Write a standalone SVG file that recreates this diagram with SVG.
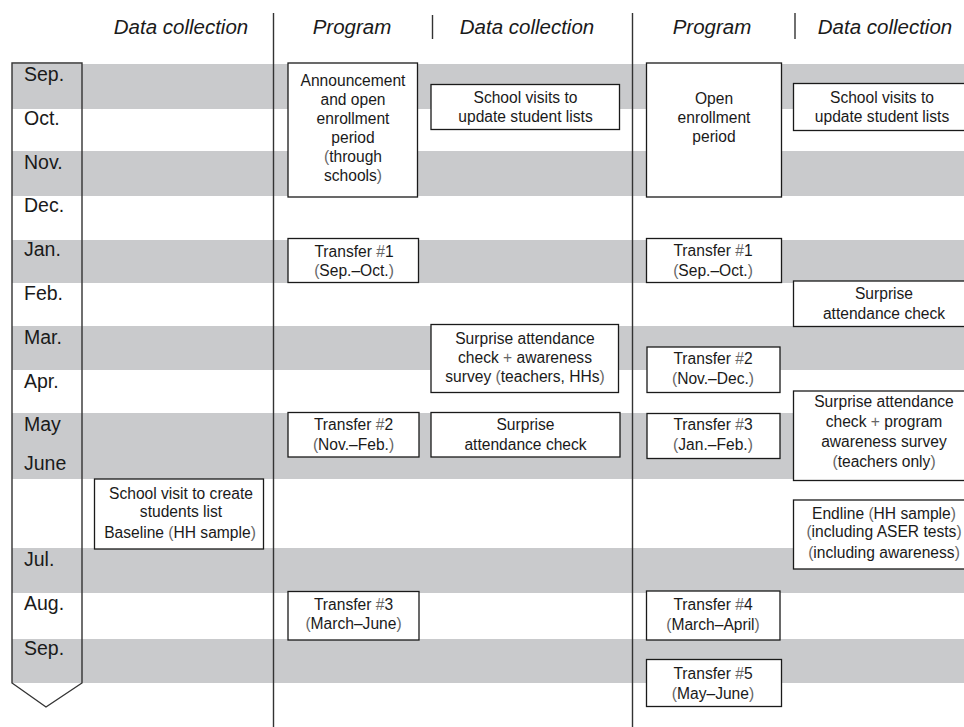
<svg xmlns="http://www.w3.org/2000/svg" width="964" height="727" viewBox="0 0 964 727">
<style>
.band{fill:#c9cacc}
.box{fill:#fff;stroke:#1a1a1a;stroke-width:1.3}
.div{stroke:#333;stroke-width:1.4;fill:none}
.hdr{font-family:"Liberation Sans",Arial,sans-serif;font-style:italic;font-size:20.5px;fill:#1a1a1a;text-anchor:middle}
.mon{font-family:"Liberation Sans",Arial,sans-serif;font-size:19.5px;fill:#1a1a1a}
.t{font-family:"Liberation Sans",Arial,sans-serif;font-size:15.6px;fill:#1a1a1a;text-anchor:middle}
.sym{fill:#666}
</style>
<rect width="964" height="727" fill="#fff"/>
<g id="bands">
<rect class="band" x="12" y="64" width="952" height="45"/>
<rect class="band" x="12" y="151" width="952" height="45"/>
<rect class="band" x="12" y="240" width="952" height="43"/>
<rect class="band" x="12" y="326" width="952" height="44"/>
<rect class="band" x="12" y="413" width="952" height="66"/>
<rect class="band" x="12" y="548" width="952" height="45"/>
<rect class="band" x="12" y="639" width="952" height="44"/>
</g>
<g id="timeline">
<path d="M12,63 H82 V683 L46,707 L12,683 Z" fill="none" stroke="#333" stroke-width="1.4"/>
<text class="mon" x="24" y="81">Sep.</text>
<text class="mon" x="24" y="125">Oct.</text>
<text class="mon" x="24" y="169">Nov.</text>
<text class="mon" x="24" y="212">Dec.</text>
<text class="mon" x="24" y="256">Jan.</text>
<text class="mon" x="24" y="300">Feb.</text>
<text class="mon" x="24" y="344">Mar.</text>
<text class="mon" x="24" y="388">Apr.</text>
<text class="mon" x="24" y="431">May</text>
<text class="mon" x="24" y="470">June</text>
<text class="mon" x="24" y="566">Jul.</text>
<text class="mon" x="24" y="610">Aug.</text>
<text class="mon" x="24" y="655">Sep.</text>
</g>
<g id="headers">
<text class="hdr" x="181" y="34">Data collection</text>
<text class="hdr" x="352" y="34">Program</text>
<text class="hdr" x="527" y="34">Data collection</text>
<text class="hdr" x="712" y="34">Program</text>
<text class="hdr" x="885" y="34">Data collection</text>
</g>
<g id="connectors">
<line class="div" x1="273.5" y1="13" x2="273.5" y2="727"/>
<line class="div" x1="632.5" y1="13" x2="632.5" y2="727"/>
<line class="div" x1="432.5" y1="15" x2="432.5" y2="39"/>
<line class="div" x1="795" y1="13" x2="795" y2="39"/>
</g>
<g id="announcement">
<rect class="box" x="288" y="63" width="129.5" height="134"/>
<text class="t" x="353" y="86">Announcement</text>
<text class="t" x="353" y="105">and open</text>
<text class="t" x="353" y="124">enrollment</text>
<text class="t" x="353" y="143">period</text>
<text class="t" x="353" y="162"><tspan class="sym">(</tspan>through</text>
<text class="t" x="353" y="181">schools<tspan class="sym">)</tspan></text>
</g>
<g id="visits1">
<rect class="box" x="431" y="84.5" width="188.5" height="45"/>
<text class="t" x="525.5" y="102.5">School visits to</text>
<text class="t" x="525.5" y="121.5">update student lists</text>
</g>
<g id="open-enrollment">
<rect class="box" x="646.5" y="63" width="135" height="134"/>
<text class="t" x="714" y="103.5">Open</text>
<text class="t" x="714" y="122.5">enrollment</text>
<text class="t" x="714" y="141.5">period</text>
</g>
<g id="visits2">
<rect class="box" x="793.5" y="83.5" width="180" height="47"/>
<text class="t" x="882" y="102.5">School visits to</text>
<text class="t" x="882" y="121.5">update student lists</text>
</g>
<g id="transfer1a">
<rect class="box" x="288" y="238.5" width="130.5" height="44"/>
<text class="t" x="354" y="256.5">Transfer <tspan class="sym">#</tspan>1</text>
<text class="t" x="354" y="276"><tspan class="sym">(</tspan>Sep.–Oct.<tspan class="sym">)</tspan></text>
</g>
<g id="transfer1b">
<rect class="box" x="646.5" y="238.5" width="135" height="44"/>
<text class="t" x="713" y="256">Transfer <tspan class="sym">#</tspan>1</text>
<text class="t" x="713" y="276"><tspan class="sym">(</tspan>Sep.–Oct.<tspan class="sym">)</tspan></text>
</g>
<g id="surprise-feb">
<rect class="box" x="793.5" y="281" width="180" height="45.5"/>
<text class="t" x="884" y="299">Surprise</text>
<text class="t" x="884" y="318.5">attendance check</text>
</g>
<g id="surprise-awareness1">
<rect class="box" x="431" y="324.5" width="187.5" height="68"/>
<text class="t" x="525" y="343.5">Surprise attendance</text>
<text class="t" x="525" y="362.5">check <tspan class="sym">+</tspan> awareness</text>
<text class="t" x="525" y="381.5">survey <tspan class="sym">(</tspan>teachers, HHs<tspan class="sym">)</tspan></text>
</g>
<g id="transfer2b">
<rect class="box" x="647" y="347" width="133" height="45.5"/>
<text class="t" x="713" y="363.5">Transfer <tspan class="sym">#</tspan>2</text>
<text class="t" x="713" y="383.5"><tspan class="sym">(</tspan>Nov.–Dec.<tspan class="sym">)</tspan></text>
</g>
<g id="transfer2a">
<rect class="box" x="288" y="412.5" width="131" height="44.5"/>
<text class="t" x="353.5" y="430">Transfer <tspan class="sym">#</tspan>2</text>
<text class="t" x="353.5" y="449.5"><tspan class="sym">(</tspan>Nov.–Feb.<tspan class="sym">)</tspan></text>
</g>
<g id="surprise-may">
<rect class="box" x="431" y="412.5" width="189" height="44.5"/>
<text class="t" x="525.5" y="430">Surprise</text>
<text class="t" x="525.5" y="449.5">attendance check</text>
</g>
<g id="transfer3b">
<rect class="box" x="647" y="413.5" width="133" height="45"/>
<text class="t" x="713" y="430">Transfer <tspan class="sym">#</tspan>3</text>
<text class="t" x="713" y="450"><tspan class="sym">(</tspan>Jan.–Feb.<tspan class="sym">)</tspan></text>
</g>
<g id="surprise-awareness2">
<rect class="box" x="793.5" y="391" width="180" height="89.5"/>
<text class="t" x="884" y="407">Surprise attendance</text>
<text class="t" x="884" y="427">check <tspan class="sym">+</tspan> program</text>
<text class="t" x="884" y="447">awareness survey</text>
<text class="t" x="884" y="467"><tspan class="sym">(</tspan>teachers only<tspan class="sym">)</tspan></text>
</g>
<g id="baseline">
<rect class="box" x="94.5" y="479" width="169" height="70"/>
<text class="t" x="181" y="498.5">School visit to create</text>
<text class="t" x="181" y="517">students list</text>
<text class="t" x="180" y="537.5">Baseline <tspan class="sym">(</tspan>HH sample<tspan class="sym">)</tspan></text>
</g>
<g id="endline">
<rect class="box" x="793.5" y="500" width="180" height="69"/>
<text class="t" x="884" y="518.5">Endline <tspan class="sym">(</tspan>HH sample<tspan class="sym">)</tspan></text>
<text class="t" x="884" y="537"><tspan class="sym">(</tspan>including ASER tests<tspan class="sym">)</tspan></text>
<text class="t" x="884" y="557.5"><tspan class="sym">(</tspan>including awareness<tspan class="sym">)</tspan></text>
</g>
<g id="transfer3a">
<rect class="box" x="288" y="591.5" width="131" height="48.5"/>
<text class="t" x="353.5" y="610">Transfer <tspan class="sym">#</tspan>3</text>
<text class="t" x="353.5" y="629"><tspan class="sym">(</tspan>March–June<tspan class="sym">)</tspan></text>
</g>
<g id="transfer4">
<rect class="box" x="646.5" y="591" width="133.5" height="49"/>
<text class="t" x="713" y="610">Transfer <tspan class="sym">#</tspan>4</text>
<text class="t" x="713" y="630"><tspan class="sym">(</tspan>March–April<tspan class="sym">)</tspan></text>
</g>
<g id="transfer5">
<rect class="box" x="646.5" y="659.5" width="135" height="47"/>
<text class="t" x="713" y="679">Transfer <tspan class="sym">#</tspan>5</text>
<text class="t" x="713" y="698.5"><tspan class="sym">(</tspan>May–June<tspan class="sym">)</tspan></text>
</g>
</svg>
